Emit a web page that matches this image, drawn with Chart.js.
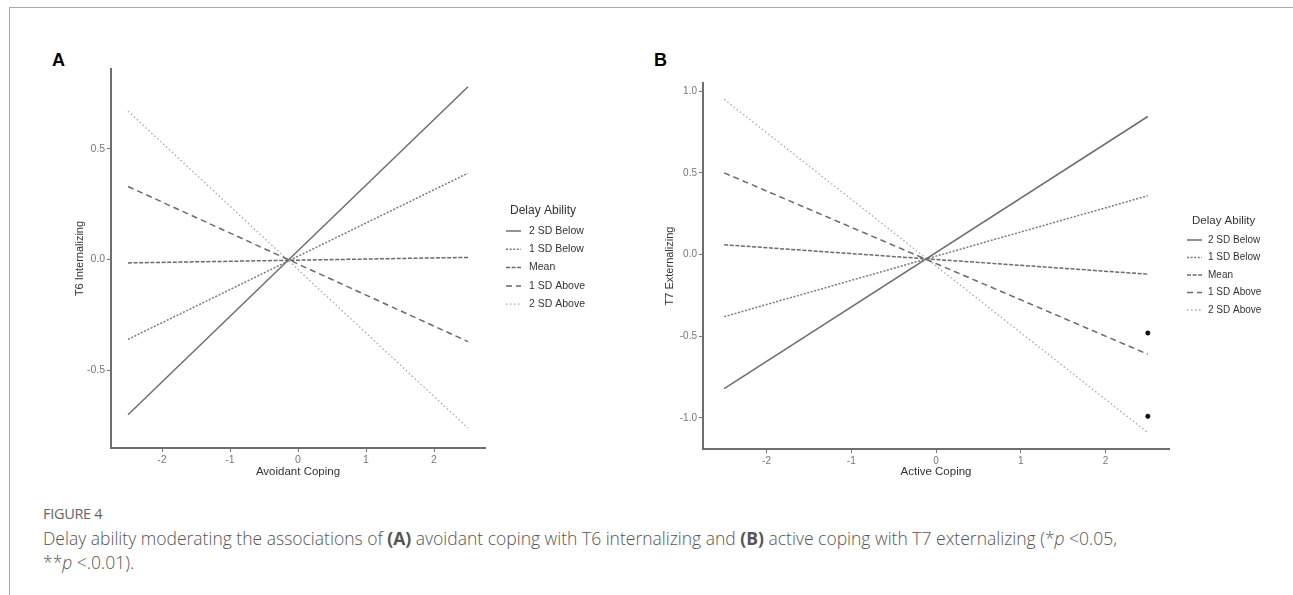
<!DOCTYPE html>
<html>
<head>
<meta charset="utf-8">
<script src="https://cdn.jsdelivr.net/npm/chart.js@4.4.0/dist/chart.umd.min.js"></script>
<style>
  body { margin:0; background:#fff; width:1293px; height:595px; overflow:hidden; position:relative; font-family:'Liberation Sans', Arial, sans-serif; }
  #frame { position:absolute; left:9px; top:7px; width:1400px; height:700px; border-top:1px solid #aaa; border-left:1px solid #aaa; }
  .panel { position:absolute; font-weight:bold; font-size:18px; color:#000; line-height:18px; }
  canvas { position:absolute; }
  #fig { position:absolute; left:43px; top:504px; font-family:'Open Sans', sans-serif; font-size:14.5px; line-height:20px; color:#666; letter-spacing:-0.3px; }
  #cap { position:absolute; left:43px; top:526px; font-family:'Open Sans', sans-serif; font-size:17.5px; line-height:24px; color:#555; font-weight:300; white-space:nowrap; }
  #cap b { font-weight:700; color:#555; }
</style>
</head>
<body>
<div id="frame"></div>
<div class="panel" style="left:52px;top:51px">A</div>
<div class="panel" style="left:654px;top:51px">B</div>
<canvas id="chartA" width="580" height="430" style="left:50px;top:60px"></canvas>
<canvas id="chartB" width="653" height="430" style="left:640px;top:60px"></canvas>
<div id="fig">FIGURE 4</div>
<div id="cap">Delay ability moderating the associations of <b>(A)</b> avoidant coping with T6 internalizing and <b>(B)</b> active coping with T7 externalizing (*<i>p</i> &lt;0.05,<br>**<i>p</i> &lt;.0.01).</div>

<script>
// ---- data ----
var groups = ["2 SD Below", "1 SD Below", "Mean", "1 SD Above", "2 SD Above"];
var copingX = [-2.5, 2.5];

// (A) avoidant coping -> T6 internalizing
var intern2Below = [-0.70, 0.78];
var intern1Below = [-0.36, 0.39];
var internMean   = [-0.015, 0.01];
var intern1Above = [0.33, -0.37];
var intern2Above = [0.67, -0.76];

// (B) active coping -> T7 externalizing
var extern2Below = [-0.82, 0.845];
var extern1Below = [-0.38, 0.36];
var externMean   = [0.06, -0.12];
var extern1Above = [0.50, -0.61];
var extern2Above = [0.95, -1.09];

// significance stars in panel B
var starX = [2.5, 2.5];
var starY = [-0.48, -0.99];

var xTicks  = [-2, -1, 0, 1, 2];
var yTicksA = [-0.5, 0, 0.5];
var yTicksB = [-1, -0.5, 0, 0.5, 1];

// ---- styles ----
var lineColors = ['#6e6e6e', '#7a7a7a', '#6a6a6a', '#6a6a6a', '#a8a8a8'];
var lineDashes = [[], [2, 1.6], [4, 1.6], [6, 4], [1.5, 2.5]];
var lineWidths = [1.5, 1.5, 1.5, 1.5, 1.3];

function series(ys) {
  return copingX.map(function (x, i) { return { x: x, y: ys[i] }; });
}

function lineSets(all) {
  return all.map(function (ys, i) {
    return {
      label: groups[i],
      data: series(ys),
      borderColor: lineColors[i],
      borderDash: lineDashes[i],
      borderWidth: lineWidths[i],
      pointRadius: 0,
      tension: 0,
      fill: false
    };
  });
}

// legend drawn in the ggplot style, next to the panel
var ggLegend = {
  id: 'ggLegend',
  afterDraw: function (chart, args, opts) {
    var ctx = chart.ctx, ca = chart.chartArea;
    var x0 = ca.right + opts.dx, y0 = ca.top + opts.dy;
    ctx.save();
    ctx.fillStyle = '#333';
    ctx.textBaseline = 'middle';
    ctx.textAlign = 'left';
    ctx.font = opts.titleSize + "px 'Liberation Sans', Arial, sans-serif";
    ctx.fillText('Delay Ability', x0 + opts.titleDx, y0 - opts.titleGap);
    ctx.font = opts.size + "px 'Liberation Sans', Arial, sans-serif";
    chart.data.datasets.forEach(function (ds, i) {
      if (ds.noLegend) return;
      var y = y0 + i * opts.step;
      ctx.strokeStyle = ds.borderColor;
      ctx.lineWidth = ds.borderWidth;
      ctx.setLineDash(ds.borderDash);
      ctx.beginPath();
      ctx.moveTo(x0, y);
      ctx.lineTo(x0 + 15, y);
      ctx.stroke();
      ctx.setLineDash([]);
      ctx.fillStyle = '#333';
      ctx.fillText(ds.label, x0 + opts.textDx, y);
    });
    ctx.restore();
  }
};

function makeOptions(yMin, yMax, yTicks, yTitle, xTitle, yWidth, xHeight, pad, legendOpts, tickSize) {
  var tickFont = { family: "'Liberation Sans', Arial, sans-serif", size: tickSize };
  return {
    responsive: false,
    animation: false,
    layout: { padding: pad },
    plugins: {
      legend: { display: false },
      tooltip: { enabled: false },
      ggLegend: legendOpts
    },
    scales: {
      x: {
        type: 'linear',
        min: -2.75, max: 2.75,
        afterBuildTicks: function (s) { s.ticks = xTicks.map(function (v) { return { value: v }; }); },
        afterFit: function (s) { s.height = xHeight; },
        ticks: { color: '#777', font: tickFont, padding: 2, maxRotation: 0,
                 callback: function (v) { return String(v); } },
        grid: { drawOnChartArea: false, tickLength: 4, color: '#777', tickWidth: 1 },
        border: { color: '#6e6e6e', width: 2 },
        title: { display: true, text: xTitle, color: '#333', padding: { top: 4, bottom: 11 },
                 font: { family: "'Liberation Sans', Arial, sans-serif", size: 11.5 } }
      },
      y: {
        min: yMin, max: yMax,
        afterBuildTicks: function (s) { s.ticks = yTicks.map(function (v) { return { value: v }; }); },
        afterFit: function (s) { s.width = yWidth; },
        ticks: { color: '#777', font: tickFont, padding: 2,
                 callback: function (v) { return v.toFixed(1); } },
        grid: { drawOnChartArea: false, tickLength: 4, color: '#777', tickWidth: 1 },
        border: { color: '#6e6e6e', width: 2 },
        title: { display: true, text: yTitle, color: '#333', padding: { top: 23, bottom: 0 },
                 font: { family: "'Liberation Sans', Arial, sans-serif", size: 11 } }
      }
    }
  };
}

var setsA = lineSets([intern2Below, intern1Below, internMean, intern1Above, intern2Above]);
new Chart(document.getElementById('chartA'), {
  type: 'line',
  data: { datasets: setsA },
  options: makeOptions(-0.85, 0.86, yTicksA, 'T6 Internalizing', 'Avoidant Coping', 61, 42,
    { top: 9, right: 145, left: 0, bottom: 0 },
    { dx: 21, dy: 162, step: 18.3, textDx: 23, titleDx: 4, titleGap: 20, size: 10.5, titleSize: 12 }, 10.5),
  plugins: [ggLegend]
});

var setsB = lineSets([extern2Below, extern1Below, externMean, extern1Above, extern2Above]);
setsB.push({
  label: 'p',
  noLegend: true,
  data: starX.map(function (x, i) { return { x: x, y: starY[i] }; }),
  showLine: false,
  pointStyle: 'star',
  pointRadius: 2.5,
  borderColor: '#111',
  backgroundColor: '#111',
  borderWidth: 1.5
});
new Chart(document.getElementById('chartB'), {
  type: 'line',
  data: { datasets: setsB },
  options: makeOptions(-1.19, 1.05, yTicksB, 'T7 Externalizing', 'Active Coping', 63, 41,
    { top: 23, right: 124, left: 0, bottom: 0 },
    { dx: 18, dy: 157, step: 17.5, textDx: 21, titleDx: 5, titleGap: 19, size: 10, titleSize: 11.5 }, 10),
  plugins: [ggLegend]
});
</script>
</body>
</html>
